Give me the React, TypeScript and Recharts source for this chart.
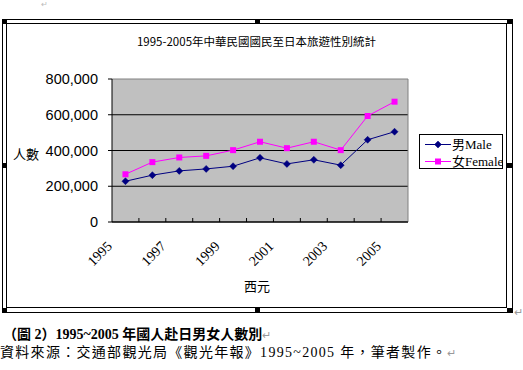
import React from 'react';
import { LineChart, Line, XAxis, YAxis, CartesianGrid, Legend } from 'recharts';

const years = ['1995', '1996', '1997', '1998', '1999', '2000', '2001', '2002', '2003', '2004', '2005'];
const male = [228000, 262000, 286000, 297000, 312000, 359000, 325000, 348000, 318000, 460000, 505000];
const female = [267000, 335000, 361000, 370000, 402000, 449000, 413000, 449000, 402000, 593000, 673000];
const yTicks = [0, 200000, 400000, 600000, 800000];

const maleName = '男Male';
const femaleName = '女Female';
const title = '1995-2005年中華民國國民至日本旅遊性別統計';
const yTitle = '人數';
const xTitle = '西元';
const caption1 = '（圖 2）1995~2005 年國人赴日男女人數別';
const caption2 = '資料來源：交通部觀光局《觀光年報》1995~2005 年，筆者製作。';

const data = years.map((y, i) => ({ year: y, male: male[i], female: female[i] }));

const MALE_COLOR = '#000080';
const FEMALE_COLOR = '#FF00FF';
const SERIF = '"Liberation Serif", "Times New Roman", "Noto Sans CJK TC", serif';
const SANS = '"Liberation Sans", Arial, "Noto Sans CJK TC", sans-serif';
const CJK = '"Noto Sans CJK TC", "Liberation Sans", sans-serif';

const PLOT_W = 296;
const HALF_BAND = PLOT_W / years.length / 2;

const Diamond = (props: any) => {
  const { cx, cy } = props;
  if (cx == null || cy == null) return <g />;
  const r = 3.5;
  return <path d={`M${cx},${cy - r}L${cx + r},${cy}L${cx},${cy + r}L${cx - r},${cy}Z`} fill={MALE_COLOR} stroke={MALE_COLOR} strokeWidth={0.5} />;
};

const Square = (props: any) => {
  const { cx, cy } = props;
  if (cx == null || cy == null) return <g />;
  const r = 3;
  return <rect x={cx - r} y={cy - r} width={2 * r} height={2 * r} fill={FEMALE_COLOR} />;
};

const XTick = (props: any) => {
  const { x, y, payload, index } = props;
  const tx = x - 12.5;
  const ty = y + 25;
  return (
    <g>
      {index > 0 && <line x1={x - HALF_BAND} x2={x - HALF_BAND} y1={y} y2={y - 4} stroke="#000" strokeWidth={1} />}
      {index % 2 === 0 && (
        <text x={tx} y={ty} transform={`rotate(-45 ${tx} ${ty})`} textAnchor="end" fontFamily={SERIF} fontSize={14} fill="#000">
          {payload.value}
        </text>
      )}
    </g>
  );
};

const HLine = (p: any) => {
  const top = p.y != null ? p.y : 79;
  const isTop = Math.abs(p.y1 - top) < 1;
  return <line x1={p.x1} y1={p.y1} x2={p.x2} y2={p.y2} stroke={isTop ? '#808080' : '#000'} strokeWidth={1} />;
};

const VLine = (p: any) => <line x1={p.x1} y1={p.y1} x2={p.x2} y2={p.y2} stroke="#808080" strokeWidth={1} />;

const LegendContent = () => (
  <div style={{ width: 82, height: 33, border: '1px solid #000', background: '#fff', position: 'relative', boxSizing: 'content-box' }}>
    <svg width={82} height={33} style={{ position: 'absolute', left: 0, top: 0 }}>
      <line x1={5} x2={31} y1={9.5} y2={9.5} stroke={MALE_COLOR} strokeWidth={1} />
      <Diamond cx={18} cy={9.5} />
      <line x1={5} x2={31} y1={26.5} y2={26.5} stroke={FEMALE_COLOR} strokeWidth={1} />
      <Square cx={18} cy={26.5} />
      <text x={32} y={14} fontFamily={SERIF} fontSize={13} fill="#000">{maleName}</text>
      <text x={32} y={31} fontFamily={SERIF} fontSize={13} fill="#000">{femaleName}</text>
    </svg>
  </div>
);

const handles = [
  [2, 19], [255, 19], [507, 19],
  [2, 163], [507, 163],
  [2, 308], [255, 308], [507, 308],
];

export default function App() {
  return (
    <div style={{ position: 'absolute', left: 0, top: 0, width: 523, height: 370, background: '#fff', overflow: 'hidden' }}>
      <svg width={523} height={370} style={{ position: 'absolute', left: 0, top: 0 }}>
        <rect x={2.5} y={19.5} width={510} height={293} fill="#fff" stroke="#000" strokeWidth={1} />
        <rect x={6.5} y={23.5} width={500} height={284} fill="#fff" stroke="#000" strokeWidth={1} />
        {handles.map(([hx, hy], i) => (
          <rect key={i} x={hx} y={hy} width={5} height={5} fill="#000" />
        ))}
      </svg>
      <div style={{ position: 'absolute', left: 0, top: 0 }}>
        <LineChart width={523} height={370} data={data} margin={{ top: 79, right: 115, bottom: 88, left: 0 }}>
          <CartesianGrid fill="#c0c0c0" horizontal={HLine} vertical={VLine}
            verticalCoordinatesGenerator={(a: any) => [a.offset.left + a.offset.width]} />
          <XAxis dataKey="year" height={60} interval={0} tickLine={false} tickSize={0} tickMargin={0}
            padding={{ left: HALF_BAND, right: HALF_BAND }}
            axisLine={{ stroke: '#000' }} tick={XTick}
            label={{ value: xTitle, position: 'bottom', offset: 0, dx: -3, fontFamily: CJK, fontSize: 13, fill: '#000' }} />
          <YAxis width={112} domain={[0, 800000]} ticks={yTicks} interval={0} tickSize={4} tickMargin={10}
            axisLine={{ stroke: '#000' }} tickLine={{ stroke: '#000' }}
            tick={{ fontFamily: SANS, fontSize: 14.5, fill: '#000' }}
            tickFormatter={(v: number) => v.toLocaleString('en-US')}
            label={{ value: yTitle, position: 'insideLeft', offset: 13, dy: 4, fontFamily: CJK, fontSize: 13, fill: '#000' }} />
          <Legend layout="vertical" align="center" verticalAlign="middle" content={LegendContent}
            wrapperStyle={{ left: 419, top: 134, width: 84, height: 35 }} />
          <Line type="linear" dataKey="female" name={femaleName} stroke={FEMALE_COLOR} strokeWidth={1} dot={Square} isAnimationActive={false} />
          <Line type="linear" dataKey="male" name={maleName} stroke={MALE_COLOR} strokeWidth={1} dot={Diamond} isAnimationActive={false} />
        </LineChart>
      </div>
      <div style={{ position: 'absolute', left: 0, width: 523, top: 34, textAlign: 'center', paddingRight: 10, boxSizing: 'border-box', fontFamily: CJK, fontSize: 11.5, lineHeight: '15px', color: '#000', whiteSpace: 'nowrap' }}>
        {title}
      </div>
      <div style={{ position: 'absolute', left: 3, top: 327, fontFamily: SERIF, fontWeight: 'bold', fontSize: 14, lineHeight: '16px', color: '#000', whiteSpace: 'nowrap' }}>
        {caption1}<span style={{ color: '#999', fontWeight: 'normal', fontSize: 11 }}>↵</span>
      </div>
      <div style={{ position: 'absolute', left: 0, top: 345, fontFamily: SERIF, fontSize: 14, lineHeight: '16px', color: '#000', whiteSpace: 'nowrap', letterSpacing: 1.3 }}>
        {caption2}<span style={{ color: '#999', fontSize: 11 }}>↵</span>
      </div>
      <div style={{ position: 'absolute', left: 514, top: 303, fontFamily: CJK, fontSize: 11, color: '#999' }}>↵</div>
      <div style={{ position: 'absolute', left: 41, top: 0, fontFamily: SERIF, fontSize: 8, lineHeight: '9px', color: '#bbb' }}>↵</div>
    </div>
  );
}
